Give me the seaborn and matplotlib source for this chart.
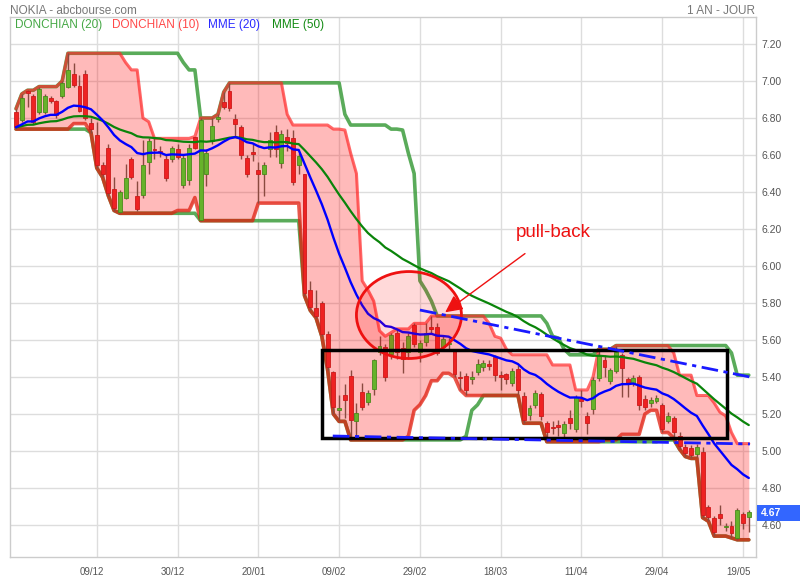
import numpy as np
import pandas as pd
import matplotlib
matplotlib.use("Agg")
import matplotlib.pyplot as plt
import matplotlib.transforms as mtransforms
from matplotlib.patches import Ellipse, Rectangle
import seaborn as sns

# ---------------- data ----------------
opens = [6.83, 6.79, 6.945, 6.92, 6.83, 6.83, 6.91, 6.89, 6.92, 6.97,
         7.04, 6.975, 7.04, 6.775, 6.708, 6.546, 6.64, 6.415, 6.294, 6.366,
         6.577, 6.378, 6.384, 6.564, 6.63, 6.62, 6.577, 6.577, 6.634, 6.44,
         6.465, 6.696, 6.249, 6.497, 6.676, 6.793, 6.888, 6.946, 6.793, 6.75,
         6.582, 6.616, 6.519, 6.50, 6.63, 6.726, 6.555, 6.696, 6.69, 6.546,
         6.497, 5.87, 5.771, 5.798, 5.632, 5.425, 5.22, 5.30, 5.405, 5.164,
         5.317, 5.267, 5.333, 5.537, 5.564, 5.523, 5.636, 5.555, 5.537, 5.681,
         5.537, 5.59, 5.668, 5.668, 5.564, 5.58, 5.542, 5.402, 5.405, 5.39,
         5.429, 5.452, 5.466, 5.51, 5.41, 5.415, 5.37, 5.443, 5.297, 5.195,
         5.246, 5.308, 5.153, 5.13, 5.14, 5.096, 5.18, 5.12, 5.28, 5.189,
         5.225, 5.396, 5.492, 5.378, 5.432, 5.519, 5.389, 5.37, 5.40, 5.281,
         5.258, 5.272, 5.249, 5.164, 5.178, 5.08, 5.023, 5.014, 4.984, 4.996,
         4.696, 4.636, 4.658, 4.59, 4.596, 4.528, 4.659, 4.642]
highs = [6.85, 6.93, 6.95, 6.93, 6.97, 6.93, 6.92, 6.90, 7.00, 7.15,
         7.10, 7.03, 7.06, 6.80, 6.78, 6.56, 6.66, 6.48, 6.41, 6.55,
         6.59, 6.46, 6.68, 6.69, 6.69, 6.65, 6.60, 6.65, 6.66, 6.60,
         6.66, 6.70, 6.80, 6.63, 6.80, 6.82, 6.94, 6.99, 6.82, 6.76,
         6.60, 6.66, 6.564, 6.56, 6.726, 6.762, 6.735, 6.74, 6.735, 6.61,
         6.50, 5.92, 5.87, 5.81, 5.65, 5.43, 5.30, 5.36, 5.44, 5.26,
         5.37, 5.33, 5.50, 5.62, 5.58, 5.64, 5.66, 5.59, 5.64, 5.69,
         5.60, 5.69, 5.73, 5.69, 5.62, 5.61, 5.55, 5.43, 5.42, 5.43,
         5.50, 5.49, 5.49, 5.52, 5.43, 5.42, 5.45, 5.465, 5.32, 5.25,
         5.33, 5.32, 5.16, 5.16, 5.17, 5.16, 5.22, 5.30, 5.33, 5.21,
         5.40, 5.55, 5.52, 5.45, 5.57, 5.53, 5.40, 5.41, 5.41, 5.30,
         5.29, 5.30, 5.26, 5.21, 5.19, 5.10, 5.04, 5.03, 5.04, 5.02,
         4.71, 4.65, 4.71, 4.61, 4.62, 4.69, 4.67, 4.68]
lows = [6.74, 6.78, 6.86, 6.77, 6.82, 6.82, 6.88, 6.80, 6.91, 6.96,
        6.97, 6.83, 6.79, 6.72, 6.53, 6.48, 6.38, 6.30, 6.285, 6.36,
        6.47, 6.30, 6.37, 6.50, 6.58, 6.59, 6.46, 6.56, 6.58, 6.42,
        6.44, 6.63, 6.245, 6.43, 6.66, 6.78, 6.85, 6.84, 6.70, 6.58,
        6.48, 6.57, 6.34, 6.38, 6.59, 6.59, 6.53, 6.62, 6.438, 6.50,
        5.84, 5.76, 5.72, 5.62, 5.44, 5.20, 5.16, 5.18, 5.06, 5.08,
        5.22, 5.25, 5.30, 5.52, 5.38, 5.50, 5.50, 5.42, 5.50, 5.56,
        5.48, 5.57, 5.63, 5.52, 5.54, 5.55, 5.40, 5.33, 5.30, 5.36,
        5.41, 5.43, 5.44, 5.38, 5.33, 5.36, 5.35, 5.31, 5.15, 5.17,
        5.23, 5.17, 5.05, 5.09, 5.08, 5.06, 5.12, 5.10, 5.24, 5.09,
        5.20, 5.38, 5.40, 5.36, 5.42, 5.29, 5.29, 5.35, 5.22, 5.22,
        5.24, 5.26, 5.10, 5.15, 5.07, 5.01, 4.97, 4.96, 4.97, 4.64,
        4.62, 4.54, 4.60, 4.57, 4.53, 4.52, 4.58, 4.564]
closes = [6.75, 6.91, 6.935, 6.78, 6.955, 6.92, 6.89, 6.816, 6.99, 7.06,
          6.98, 6.84, 6.80, 6.74, 6.546, 6.496, 6.393, 6.312, 6.40, 6.474,
          6.483, 6.306, 6.546, 6.677, 6.625, 6.615, 6.474, 6.64, 6.591, 6.582,
          6.64, 6.64, 6.789, 6.613, 6.758, 6.807, 6.858, 6.852, 6.768, 6.598,
          6.497, 6.604, 6.496, 6.544, 6.681, 6.63, 6.712, 6.664, 6.456, 6.595,
          5.852, 5.777, 5.731, 5.632, 5.456, 5.24, 5.23, 5.276, 5.167, 5.204,
          5.24, 5.312, 5.492, 5.57, 5.402, 5.627, 5.537, 5.497, 5.62, 5.577,
          5.583, 5.64, 5.661, 5.528, 5.604, 5.585, 5.416, 5.393, 5.33, 5.40,
          5.47, 5.474, 5.462, 5.41, 5.40, 5.388, 5.435, 5.33, 5.17, 5.233,
          5.312, 5.19, 5.104, 5.125, 5.13, 5.146, 5.15, 5.294, 5.27, 5.153,
          5.384, 5.519, 5.456, 5.438, 5.537, 5.447, 5.366, 5.393, 5.25, 5.24,
          5.276, 5.285, 5.12, 5.189, 5.10, 5.025, 4.988, 4.978, 5.023, 4.654,
          4.642, 4.564, 4.636, 4.596, 4.555, 4.681, 4.609, 4.67]

tick_positions = [14, 28, 42, 56, 70, 84, 98, 112, 126]
tick_labels = ["09/12", "30/12", "20/01", "09/02", "29/02",
               "18/03", "11/04", "29/04", "19/05"]
price_ticks = [4.60, 4.80, 5.00, 5.20, 5.40, 5.60, 5.80, 6.00,
               6.20, 6.40, 6.60, 6.80, 7.00, 7.20]
last_price = 4.67

# ---------------- indicators ----------------
df = pd.DataFrame({"open": opens, "high": highs, "low": lows, "close": closes})
df["idx"] = np.arange(len(df))
df["don20_hi"] = df["high"].rolling(20, min_periods=1).max()
df["don20_lo"] = df["low"].rolling(20, min_periods=1).min()
df["don10_hi"] = df["high"].rolling(10, min_periods=1).max()
df["don10_lo"] = df["low"].rolling(10, min_periods=1).min()
df["mme20"] = df["close"].ewm(span=20, adjust=False).mean()
df["mme50"] = df["close"].ewm(span=50, adjust=False).mean()

# ---------------- style ----------------
sns.set_theme(style="white")
plt.rcParams["font.family"] = ["Liberation Sans", "DejaVu Sans"]

fig = plt.figure(figsize=(8, 5.8), dpi=100)
ax = fig.add_axes([10 / 800, 23 / 580, 746 / 800, 540 / 580])
ax.set_xlim(-1.04, 128.25)
ax.set_ylim(4.427, 7.346)

ax.set_xticks(tick_positions)
ax.set_xticklabels(tick_labels)
ax.set_yticks(price_ticks)
ax.set_yticklabels([f"{v:.2f}" for v in price_ticks])
ax.yaxis.tick_right()
ax.tick_params(axis="y", length=0, pad=4, labelsize=7.5, labelcolor="#555555")
ax.tick_params(axis="x", length=0, pad=7, labelsize=7, labelcolor="#555555")
offset = mtransforms.ScaledTranslation(-5 / 100, 0, fig.dpi_scale_trans)
for lab in ax.get_xticklabels():
    lab.set_transform(lab.get_transform() + offset)
    lab.set_family(["Liberation Sans Narrow", "Liberation Sans", "DejaVu Sans"])
ax.grid(True, color="#dddddd", lw=1)
ax.set_axisbelow(True)
for s in ax.spines.values():
    s.set_color("#cccccc")
    s.set_linewidth(1)

x = df["idx"].values

# Donchian (10) fill
ax.fill_between(x, df["don10_lo"], df["don10_hi"], color="#ff0000", alpha=0.27,
                lw=0, zorder=1)
# Donchian (20) lines
ax.plot(x, df["don20_hi"], color="#3d9d3d", lw=2.6, alpha=0.85, zorder=2)
ax.plot(x, df["don20_lo"], color="#3d9d3d", lw=2.6, alpha=0.85, zorder=2)
# Donchian (10) lines
ax.plot(x, df["don10_hi"], color="#ff2a2a", lw=2.2, alpha=0.7, zorder=2.1)
ax.plot(x, df["don10_lo"], color="#e02010", lw=2.6, alpha=0.75, zorder=2.1)

# Candles
up = df["close"] >= df["open"]
body_lo = np.minimum(df["open"], df["close"])
body_h = np.maximum(np.abs(df["close"] - df["open"]), 0.006)
ax.vlines(x, df["low"], df["high"], color="#8a4a40", lw=1, zorder=3)
ax.bar(x[up], body_h[up], bottom=body_lo[up], width=0.68, color="#66b22a",
       edgecolor="#4a8a1c", linewidth=0.6, zorder=3.1)
ax.bar(x[~up], body_h[~up], bottom=body_lo[~up], width=0.68, color="#ee2222",
       edgecolor="#cc1a1a", linewidth=0.6, zorder=3.1)

# MME lines
sns.lineplot(x=x, y=df["mme50"].values, color="#0a840a", lw=1.6, ax=ax,
             zorder=4, legend=False)
sns.lineplot(x=x, y=df["mme20"].values, color="#0000ff", lw=1.7, ax=ax,
             zorder=4.1, legend=False)
ax.set_xlabel("")
ax.set_ylabel("")

# ---------------- annotations ----------------
ax.add_patch(Ellipse((68.1, 5.735), 18.2, 0.47, facecolor=(1, 0, 0, 0.15),
                     edgecolor="#ee1111", lw=2, zorder=5))
ax.add_patch(Rectangle((53.0, 5.070), 70.2, 0.476, fill=False,
                       edgecolor="black", lw=2.5, zorder=5))
ax.plot([70.0, 127.2], [5.762, 5.40], color="#1a1aff", lw=2,
        linestyle=(0, (6, 2, 1.5, 2)), zorder=5)
ax.plot([54.9, 127.2], [5.081, 5.038], color="#1a1aff", lw=2,
        linestyle=(0, (6, 2, 1.5, 2)), zorder=5)
ax.annotate("", xy=(74.0, 5.741), xytext=(88.6, 6.076),
            arrowprops=dict(arrowstyle="-|>", color="#ee1111", lw=1,
                            mutation_scale=26), zorder=6)
ax.text(93.1, 6.179, "pull-back", color="#ee1111", fontsize=13.5,
        ha="center", va="center", zorder=6)

# titles and legend texts
fig.text(10 / 800, 1 - 11 / 580, "NOKIA - abcbourse.com", color="#777777",
         fontsize=8.5, ha="left", va="center")
fig.text(755 / 800, 1 - 11 / 580, "1 AN - JOUR", color="#777777",
         fontsize=8.5, ha="right", va="center")
legend_items = [("DONCHIAN (20)", "#45a845", 15), ("DONCHIAN (10)", "#ff4848", 112),
                ("MME (20)", "#2a2aff", 208), ("MME (50)", "#128a12", 272)]
for txt, col, px in legend_items:
    fig.text(px / 800, 1 - 25 / 580, txt, color=col, fontsize=8.5,
             ha="left", va="center")

# last price box
fig.patches.append(Rectangle((757 / 800, 1 - 521 / 580), 43 / 800, 16 / 580,
                             transform=fig.transFigure, facecolor="#3366ff",
                             edgecolor="none"))
fig.text(761 / 800, 1 - 513 / 580, f"{last_price:.2f}", color="white",
         fontsize=7.5, fontweight="bold", ha="left", va="center")

fig.savefig("out.png", dpi=100)
